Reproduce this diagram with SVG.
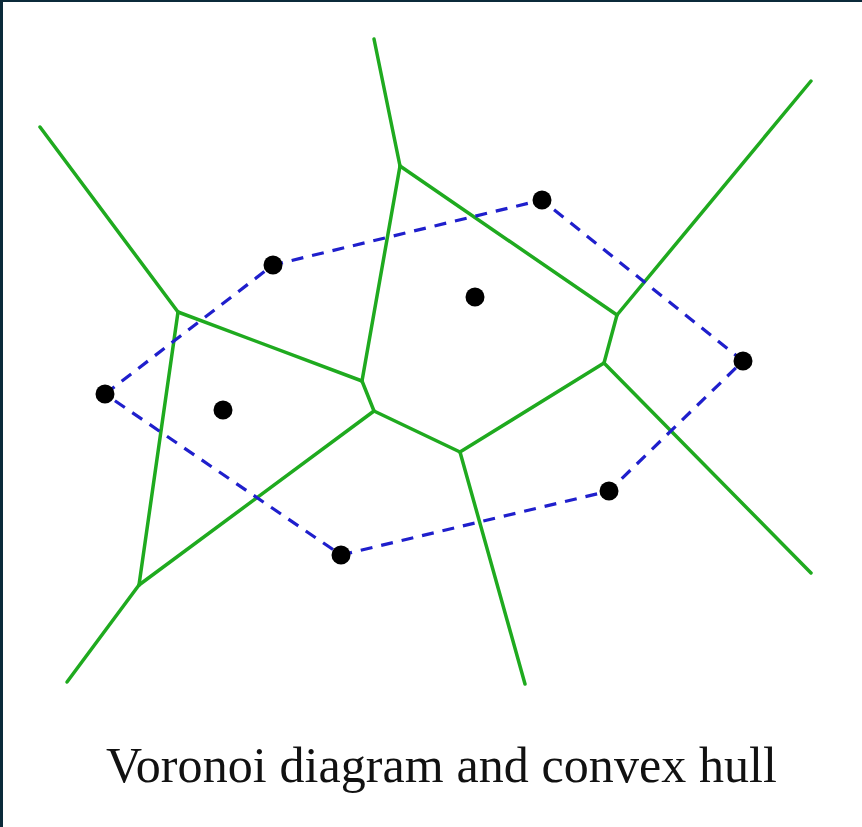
<svg xmlns="http://www.w3.org/2000/svg" width="862" height="827" viewBox="0 0 862 827">
<style>
.v{stroke:#1faa1f;stroke-width:3.5;fill:none;stroke-linecap:round;stroke-linejoin:round}
.h{stroke:#1f1fcc;stroke-width:3.2;fill:none;stroke-dasharray:12 9}
.s{fill:#000}
.t{font-family:"Liberation Serif","Times New Roman",serif;font-size:50px;fill:#111}
</style>
<rect x="0" y="0" width="862" height="827" fill="#fff"/>
<rect x="0" y="0" width="862" height="2" fill="#0b2a3a"/>
<rect x="0" y="0" width="3" height="827" fill="#0b2a3a"/>
<g id="connectors">
<g id="voronoi">
<line class="v" x1="40" y1="127" x2="178" y2="312"/>
<line class="v" x1="178" y1="312" x2="139" y2="585"/>
<line class="v" x1="139" y1="585" x2="67" y2="682"/>
<line class="v" x1="139" y1="585" x2="374" y2="411"/>
<line class="v" x1="178" y1="312" x2="362" y2="381"/>
<line class="v" x1="362" y1="381" x2="400" y2="166"/>
<line class="v" x1="400" y1="166" x2="374" y2="39"/>
<line class="v" x1="400" y1="166" x2="617" y2="315"/>
<line class="v" x1="617" y1="315" x2="811" y2="81"/>
<line class="v" x1="617" y1="315" x2="604" y2="363"/>
<line class="v" x1="604" y1="363" x2="460" y2="452"/>
<line class="v" x1="604" y1="363" x2="811" y2="573"/>
<line class="v" x1="460" y1="452" x2="374" y2="411"/>
<line class="v" x1="374" y1="411" x2="362" y2="381"/>
<line class="v" x1="460" y1="452" x2="525" y2="684"/>
</g>
<polygon id="hull" class="h" points="105,394 273,265 542,200 743,361 609,491 341,555"/>
</g>
<g id="sites">
<circle id="p1" class="s" cx="273" cy="265" r="9.5"/>
<circle id="p2" class="s" cx="542" cy="200" r="9.5"/>
<circle id="p3" class="s" cx="475" cy="297" r="9.5"/>
<circle id="p4" class="s" cx="105" cy="394" r="9.5"/>
<circle id="p5" class="s" cx="223" cy="410" r="9.5"/>
<circle id="p6" class="s" cx="743" cy="361" r="9.5"/>
<circle id="p7" class="s" cx="609" cy="491" r="9.5"/>
<circle id="p8" class="s" cx="341" cy="555" r="9.5"/>
</g>
<text id="title" class="t" x="106" y="782" textLength="671">Voronoi diagram and convex hull</text>
</svg>
